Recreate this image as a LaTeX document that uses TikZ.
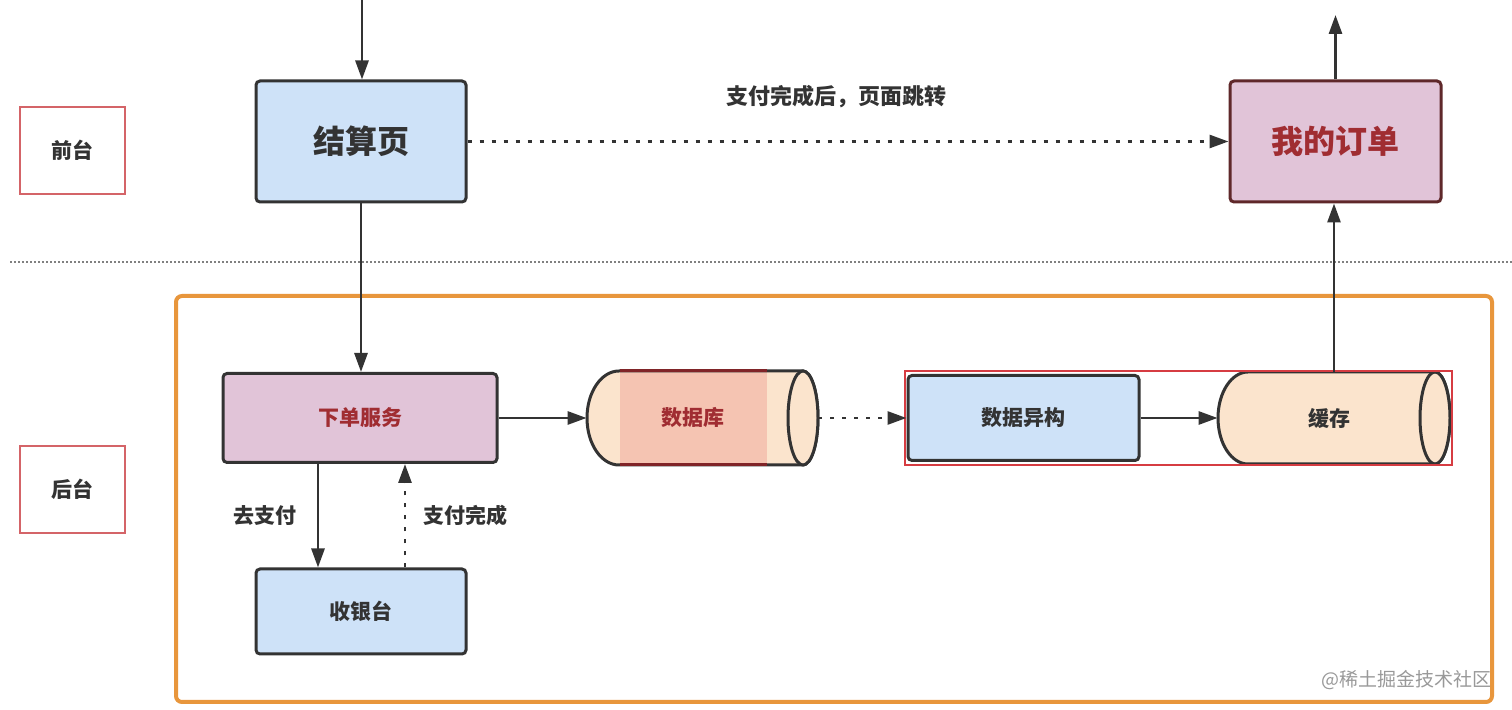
\documentclass[tikz,border=0pt]{standalone}
\usepackage{fontspec}
\setmainfont{Noto Sans CJK SC}
\usetikzlibrary{arrows.meta,calc}
\definecolor{boxblue}{RGB}{206,226,248}
\definecolor{boxmauve}{RGB}{225,196,216}
\definecolor{peach}{RGB}{251,228,205}
\definecolor{salmon}{RGB}{245,196,178}
\definecolor{darkred}{RGB}{160,45,50}
\definecolor{edge}{RGB}{51,51,51}
\definecolor{wdedge}{RGB}{95,40,42}
\definecolor{txt}{RGB}{51,51,51}
\definecolor{redline}{RGB}{214,60,66}
\definecolor{pinkline}{RGB}{212,100,104}
\definecolor{orangeline}{RGB}{232,150,60}
\begin{document}
\begin{tikzpicture}[x=0.5pt,y=-0.5pt,
  box/.style={draw=edge, line width=1.5pt, rounded corners=2pt, inner sep=0pt,
    font=\bfseries\fontsize{10.5}{12}\selectfont, text=txt},
  bluebox/.style={box, fill=boxblue},
  mauvebox/.style={box, fill=boxmauve, text=darkred},
  bigtext/.style={font=\bfseries\fontsize{16}{18}\selectfont},
  lbl/.style={inner sep=0pt, font=\bfseries\fontsize{10.5}{12}\selectfont, text=txt},
  tagbox/.style={draw=pinkline, line width=1pt, inner sep=0pt, minimum width=52.5pt,
    minimum height=43.5pt, font=\bfseries\fontsize{10.5}{12}\selectfont, text=txt},
  arr/.style={line width=1.4pt, draw=edge, -{Triangle[length=9.5pt,width=6.5pt]}},
  dotarr/.style={arr, dash pattern=on 2pt off 4pt},
  ghost/.style={inner sep=0pt}
]
\useasboundingbox (0,0) rectangle (1512,710);
\fill[white] (0,0) rectangle (1512,710);

% separator
\draw[gray, line width=0.6pt, dash pattern=on 0.8pt off 1.2pt] (10,262) -- (1512,262);

% orange backend frame
\draw[orangeline, line width=2pt, rounded corners=3pt] (176,296) rectangle (1492,702);

% side tags
\node[tagbox] (qt) at (72.5,150.5) {前台};
\node[tagbox] (ht) at (72.5,489.5) {后台};

% top boxes
\node[bluebox, bigtext, minimum width=105pt, minimum height=60.5pt] (jsy) at (361,141.5) {结算页};
\node[mauvebox, bigtext, draw=wdedge, minimum width=105.5pt, minimum height=60.5pt] (wd) at (1335.5,141.5) {我的订单};

% backend boxes
\node[mauvebox, minimum width=137pt, minimum height=44.5pt] (xd) at (360,418) {下单服务};
\node[bluebox, minimum width=105pt, minimum height=42.5pt] (syt) at (361,611.5) {收银台};
\node[bluebox, minimum width=115.5pt, minimum height=42.5pt] (yg) at (1023.5,418) {数据异构};

% database cylinder
\node[ghost, minimum width=115.5pt, minimum height=47pt] (db) at (702.5,418) {};
\fill[peach] (619,371) -- (803,371) arc[start angle=-90,end angle=90,x radius=15,y radius=47]
  -- (619,465) arc[start angle=90,end angle=270,x radius=32,y radius=47] -- cycle;
\fill[salmon] (620,372) rectangle (767,464);
\draw[edge, line width=1.5pt] (619,371) -- (803,371) arc[start angle=-90,end angle=90,x radius=15,y radius=47]
  -- (619,465) arc[start angle=90,end angle=270,x radius=32,y radius=47] -- cycle;
\draw[darkred!80!black, line width=1.5pt] (620,371) -- (767,371) (620,465) -- (767,465);
\draw[edge, line width=1.5pt, fill=peach] (803,418) ellipse[x radius=15, y radius=47];
\node[lbl, text=darkred] (dbtext) at (693,418) {数据库};

% cache cylinder
\node[ghost, minimum width=116pt, minimum height=46pt] (cache) at (1334,418) {};
\draw[edge, line width=1.5pt, fill=peach] (1248,372) -- (1435,372) arc[start angle=-90,end angle=90,x radius=15,y radius=46]
  -- (1248,464) arc[start angle=90,end angle=270,x radius=30,y radius=46] -- cycle;
\draw[edge, line width=1.5pt, fill=peach] (1435,418) ellipse[x radius=15, y radius=46];
\node[lbl] (cachetext) at (1329,418) {缓存};

% red frame around async part
\draw[redline, line width=0.9pt] (905,371) rectangle (1452,465);

% connectors
\coordinate (inpt) at (362,0);
\coordinate (outpt) at (1335.5,15);
\draw[arr] (inpt) -- (inpt |- jsy.north);
\draw[arr] (wd.north) -- (outpt);
\draw[arr] (jsy.south) -- (jsy.south |- xd.north);
\draw[dotarr] (jsy.east) -- (wd.west);
\draw[arr] (xd.east) -- (db.west);
\draw[dotarr] (db.east) -- (yg.west);
\draw[arr] (yg.east) -- (cache.west);
\draw[arr] (cache.north) -- (cache.north |- wd.south);
\draw[arr] ([xshift=-21pt]xd.south) -- ([xshift=-21pt]xd.south |- syt.north);
\draw[dotarr] ([xshift=22pt]syt.north) -- ([xshift=22pt]syt.north |- xd.south);

% labels
\node[lbl, font=\bfseries\fontsize{11}{13}\selectfont] (toplbl) at (836,97) {支付完成后，页面跳转};
\node[lbl] (paylbl) at (265,516) {去支付};
\node[lbl] (donelbl) at (465,516) {支付完成};

% watermark
\node[inner sep=0pt, anchor=east, text=gray!80, font=\fontsize{9.5}{11}\selectfont] (wm) at (1492,680) {@稀土掘金技术社区};
\end{tikzpicture}
\end{document}
